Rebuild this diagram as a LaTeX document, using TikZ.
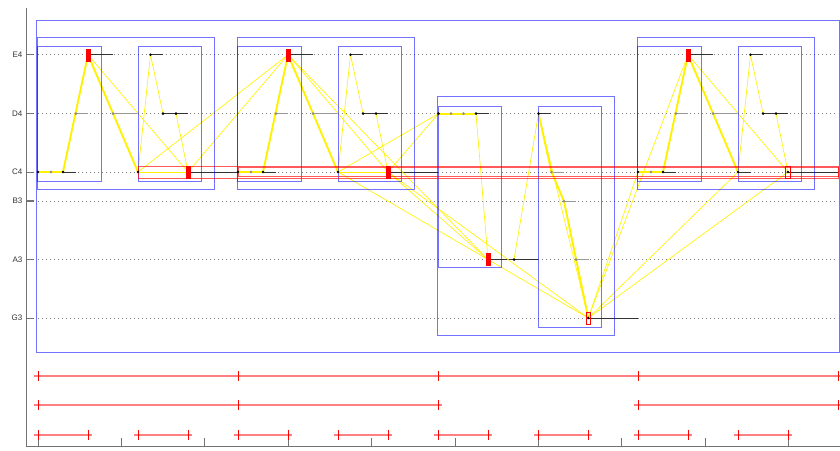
\documentclass[tikz,border=0pt]{standalone}
\usepackage{fontspec}
\newfontfamily\labfont{Liberation Sans}
\begin{document}
\begin{tikzpicture}[x=1pt,y=-1pt,
  axisline/.style={draw=black!55, line width=1pt},
  pitchgrid/.style={draw=black!50, line width=0.7pt, dash pattern=on 0.9pt off 3.1pt},
  blk/.style={draw=black!80, line width=0.9pt},
  gry/.style={draw=black!40, line width=0.9pt},
  dotblk/.style={fill=black},
  dotgry/.style={fill=black!45},
  ythick/.style={draw=yellow, line width=1.9pt},
  ythin/.style={draw=yellow, line width=0.65pt},
  bbox/.style={draw=blue, draw opacity=0.55, line width=1pt},
  redband/.style={draw=red, draw opacity=0.65, line width=0.9pt},
  redmark/.style={fill=red, draw=red, line width=0.4pt},
  redhollow/.style={draw=red, line width=0.9pt},
  ivline/.style={draw=red!50, line width=1.4pt},
  ivtick/.style={draw=red, line width=0.8pt},
  plabel/.style={anchor=east, inner sep=0pt, text=black!80, font=\labfont\fontsize{8}{9}\selectfont}
]
\useasboundingbox (0,0) rectangle (840,450);
\def\yE{54.8}\def\yD{113.6}\def\yC{172}\def\yB{201.2}\def\yA{259.6}\def\yG{318}
\newcommand\mynote[5]{\coordinate (#1) at (#2,#3); \coordinate (#1e) at (#4,#3); \draw[#5] (#1) -- (#1e);}

% axes
\draw[axisline] (26,8) -- (26,446) -- (840,446);
\foreach \y/\n in {\yE/E4,\yD/D4,\yC/C4,\yB/B3,\yA/A3,\yG/G3}{
  \draw[pitchgrid] (38,\y) -- (838,\y);
  \draw[axisline, line width=0.8pt] (26,\y) -- (33.5,\y);
  \node[plabel] (l\n) at (22.5,\y) {\n};
}
\draw[axisline, line width=1.6pt] (26,\yB) -- (34,\yB);
\foreach \k in {0,...,9}{
  \draw[axisline, line width=0.8pt] (38+\k*83.4,446) -- (38+\k*83.4,438);
}

% notes, segments 1,2,4
\foreach \o/\s in {0/a,200/b,600/d}{
  \mynote{\s1}{\o+38}{\yC}{\o+51}{blk}
  \mynote{\s2}{\o+51}{\yC}{\o+63}{gry}
  \mynote{\s3}{\o+63}{\yC}{\o+76}{blk}
  \mynote{\s4}{\o+76}{\yD}{\o+88}{gry}
  \mynote{\s5}{\o+88}{\yE}{\o+113}{blk}
  \mynote{\s6}{\o+113}{\yD}{\o+138}{gry}
  \mynote{\s7}{\o+138}{\yC}{\o+151}{blk}
  \mynote{\s8}{\o+150.5}{\yE}{\o+163}{blk}
  \mynote{\s9}{\o+163}{\yD}{\o+176}{blk}
  \mynote{\s10}{\o+176}{\yD}{\o+188}{blk}
  \mynote{\s11}{\o+188}{\yC}{\o+238}{blk}
}
% segment 3
\mynote{c1}{438.5}{\yD}{451}{blk}
\mynote{c2}{451}{\yD}{463.5}{gry}
\mynote{c3}{463.5}{\yD}{476}{gry}
\mynote{c4}{476}{\yD}{488.5}{blk}
\mynote{c5}{488}{\yA}{514}{blk}
\mynote{c6}{514}{\yA}{538}{blk}
\mynote{c7}{538.5}{\yD}{551}{blk}
\mynote{c8}{551.5}{\yC}{564}{gry}
\mynote{c9}{564}{\yB}{576}{gry}
\mynote{c10}{576}{\yA}{589}{gry}
\mynote{c11}{588.3}{\yG}{638}{blk}

% yellow connections
\foreach \s in {a,b,d}{
  \draw[ythick] (\s1) -- (\s3);
  \draw[ythick] (\s3) -- (\s5);
  \draw[ythick] (\s5) -- (\s7);
  \draw[ythin] (\s5) -- (\s11);
  \draw[ythin] (\s7) -- (\s8);
  \draw[ythin] (\s8) -- (\s9);
  \draw[ythin] (\s10) -- (\s11);
}
\draw[ythin] (a7) -- (a11);
\draw[ythin] (b7) -- (b11);
\draw[ythin] (a7) -- (b5);
\draw[ythin] (a11) -- (b5);
\draw[ythin] (b7) -- (c1);
\draw[ythin] (b11) -- (c1);
\draw[ythin] (b5) -- (c5);
\draw[ythin] (b7) -- (c11);
\draw[ythin] (b11) -- (c5);
\draw[ythin] (b11) -- (c11);
\draw[ythick] (c1) -- (c4);
\draw[ythin] (c4) -- (c5);
\draw[ythin] (c6) -- (c7);
\draw[ythick] (c7) -- (c8) -- (c9) -- (c11);
\draw[ythin] (c7) -- (c11);
\draw[ythin] (c11) -- (d1);
\draw[ythin] (c11) -- (d5);
\draw[ythin] (c11) -- (d7);
\draw[ythin] (c11) -- (d11);

% blue boxes
\draw[bbox] (36.7,20) rectangle (839,352);
\foreach \o in {0,200,600}{
  \draw[bbox] (\o+37.7,37.3) rectangle (\o+214,189.3);
  \draw[bbox] (\o+37.7,46.7) rectangle (\o+101,181);
  \draw[bbox] (\o+138,46.7) rectangle (\o+201.7,181);
}
\draw[bbox] (437.7,96.3) rectangle (614,335.3);
\draw[bbox] (438.3,106) rectangle (501.3,267.7);
\draw[bbox] (538.3,106) rectangle (601.7,327);

% red band
\draw[redband] (138,166) rectangle (838.5,178.5);
\draw[redband] (238,167.6) rectangle (838,176.9);

% dots
\foreach \s in {a,b,d}{
  \foreach \i in {1,3,5,7,8,9,10,11}{\fill[dotblk] (\s\i) circle (1.4);}
  \foreach \i in {2,4,6}{\fill[dotgry] (\s\i) circle (1.4);}
}
\foreach \i in {1,4,5,6,7,11}{\fill[dotblk] (c\i) circle (1.4);}
\foreach \i in {2,3,8,9,10}{\fill[dotgry] (c\i) circle (1.4);}

% red markers
\foreach \m in {a5,a11,b5,b11,c5,d5}{
  \filldraw[redmark] ([shift={(-2,-6)}]\m) rectangle ([shift={(2,6)}]\m);
}
\foreach \m in {c11,d11}{
  \draw[redhollow] ([shift={(-2.2,-6)}]\m) rectangle ([shift={(2.2,6)}]\m);
}

% interval rows
\draw[ivline] (34,376) -- (840,376);
\foreach \x in {38,238,438,638,838}{\draw[ivtick] (\x,371) -- (\x,381);}
\draw[ivline] (34,405) -- (442,405);
\draw[ivline] (634,405) -- (840,405);
\foreach \x in {38,238,438,638,838}{\draw[ivtick] (\x,400) -- (\x,410);}
\foreach \x in {38,138,238,338,438,538,638,738}{
  \draw[ivline] (\x-4,435) -- (\x+54,435);
  \draw[ivtick] (\x,430) -- (\x,440);
  \draw[ivtick] (\x+50,430) -- (\x+50,440);
}
\end{tikzpicture}
\end{document}
